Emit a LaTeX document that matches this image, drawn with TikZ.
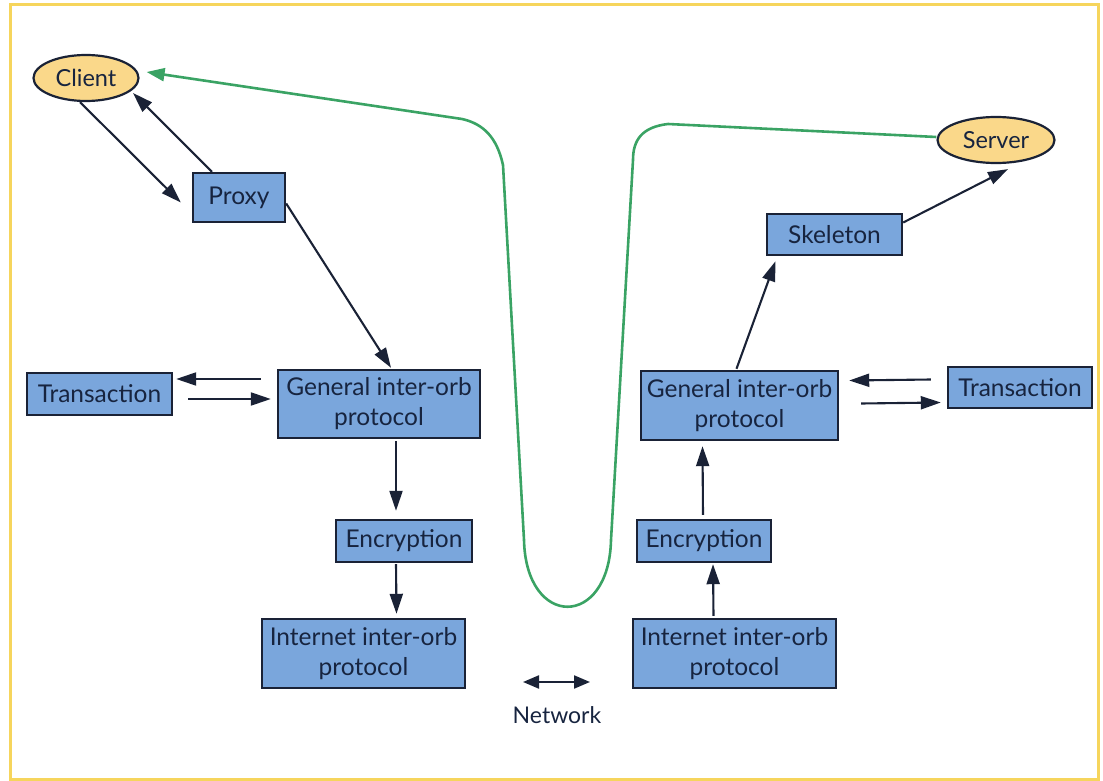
\documentclass[tikz,border=0pt]{standalone}
\usepackage{fontspec}
\setmainfont{Lato}
\usetikzlibrary{arrows.meta,shapes.geometric}
\definecolor{boxblue}{HTML}{7AA6DC}
\definecolor{ovalfill}{HTML}{FAD88A}
\definecolor{inkdark}{HTML}{1A2236}
\definecolor{textnavy}{HTML}{17243F}
\definecolor{pathgreen}{HTML}{3AA364}
\definecolor{framegold}{HTML}{F6D55C}
\tikzset{
  box/.style={draw=inkdark, fill=boxblue, line width=2.4pt, inner sep=0pt,
    align=center, text=textnavy, font=\fontsize{24.5}{30}\selectfont},
  oval/.style={ellipse, draw=inkdark, fill=ovalfill, line width=2.2pt, inner sep=0pt,
    text=textnavy, font=\fontsize{23.5}{28}\selectfont},
  arr/.style={draw=inkdark, line width=2.1pt, -{Triangle[length=20pt,width=13pt]}},
  dblarr/.style={draw=inkdark, line width=2.1pt, {Triangle[length=16pt,width=13pt]}-{Triangle[length=16pt,width=13pt]}},
  flow/.style={draw=pathgreen, line width=2.6pt,
    -{Triangle[length=18pt,width=13pt]}},
}
\begin{document}
\begin{tikzpicture}[x=1pt,y=-1pt]
\useasboundingbox (0,0) rectangle (1103,781);
% outer frame
\draw[framegold, line width=3pt] (10,5) rectangle (1098,779);

% end points of the call
\node[oval, minimum width=105, minimum height=46] (client) at (86,78) {Client};
\node[oval, minimum width=117, minimum height=46] (server) at (996,140) {Server};

% client side stack
\node[box, minimum width=92, minimum height=49] (proxy) at (239,197.5) {Proxy};
\node[box, minimum width=145, minimum height=42] (transL) at (99.5,394) {Transaction};
\node[box, minimum width=202, minimum height=68] (genL) at (379,404) {General inter-orb\\protocol};
\node[box, minimum width=136, minimum height=42] (encL) at (404,541) {Encryption};
\node[box, minimum width=203, minimum height=69] (intL) at (363.5,653.5) {Internet inter-orb\\protocol};

% server side stack
\node[box, minimum width=135, minimum height=41] (skel) at (834.5,234.5) {Skeleton};
\node[box, minimum width=144, minimum height=41] (transR) at (1020,387.5) {Transaction};
\node[box, minimum width=197, minimum height=69] (genR) at (739.5,405.5) {General inter-orb\\protocol};
\node[box, minimum width=134, minimum height=42] (encR) at (704,541) {Encryption};
\node[box, minimum width=203, minimum height=69] (intR) at (734.5,653.5) {Internet inter-orb\\protocol};

% network link
\node[text=textnavy, font=\fontsize{23}{27}\selectfont] (net) at (557,715) {Network};
\coordinate (netA) at ([shift={(-34,-33)}]net.center);
\coordinate (netB) at ([shift={(33,-33)}]net.center);
\draw[dblarr] (netA) -- (netB);

% client side connectors
\draw[arr] ([shift={(-6,0)}]client.south) -- ([shift={(-11,5)}]proxy.west);
\draw[arr] ([shift={(-27,0)}]proxy.north) -- ([shift={(47,15)}]client.center);
\draw[arr] ([shift={(0,6)}]proxy.east) -- ([shift={(12,-1)}]genL.north);
\draw[arr] ([shift={(-16,-25)}]genL.west) -- ([shift={(3,-15)}]transL.east);
\draw[arr] ([shift={(15,5)}]transL.east) -- ([shift={(-6,-5)}]genL.west);
\draw[arr] ([shift={(17,2)}]genL.south) -- ([shift={(-8,-8)}]encL.north);
\draw[arr] ([shift={(-8,1)}]encL.south) -- ([shift={(33,-4)}]intL.north);

% server side connectors
\draw[arr] ([shift={(-21,-2)}]intR.north) -- ([shift={(9,1)}]encR.south);
\draw[arr] ([shift={(-1,-4)}]encR.north) -- ([shift={(-37,5)}]genR.south);
\draw[arr] ([shift={(-3,-1)}]genR.north) -- ([shift={(-59,5)}]skel.south);
\draw[arr] ([shift={(0,-12)}]skel.east) -- ([shift={(12,5)}]server.south);
\draw[arr] ([shift={(-16,-8)}]transR.west) -- ([shift={(10,-25)}]genR.east);
\draw[arr] ([shift={(22,-2)}]genR.east) -- ([shift={(-6,15)}]transR.west);

% logical path of the invocation through the network
\draw[flow] ([shift={(0,-3)}]server.west) -- (668,124)
  .. controls (642,127) and (633,140) .. (633,160)
  -- (611,540)
  .. controls (609,629) and (526,629) .. (524,540)
  -- (503,165)
  .. controls (497,138) and (484,124) .. (462,119)
  -- ([shift={(7,-6)}]client.east);
\end{tikzpicture}
\end{document}
